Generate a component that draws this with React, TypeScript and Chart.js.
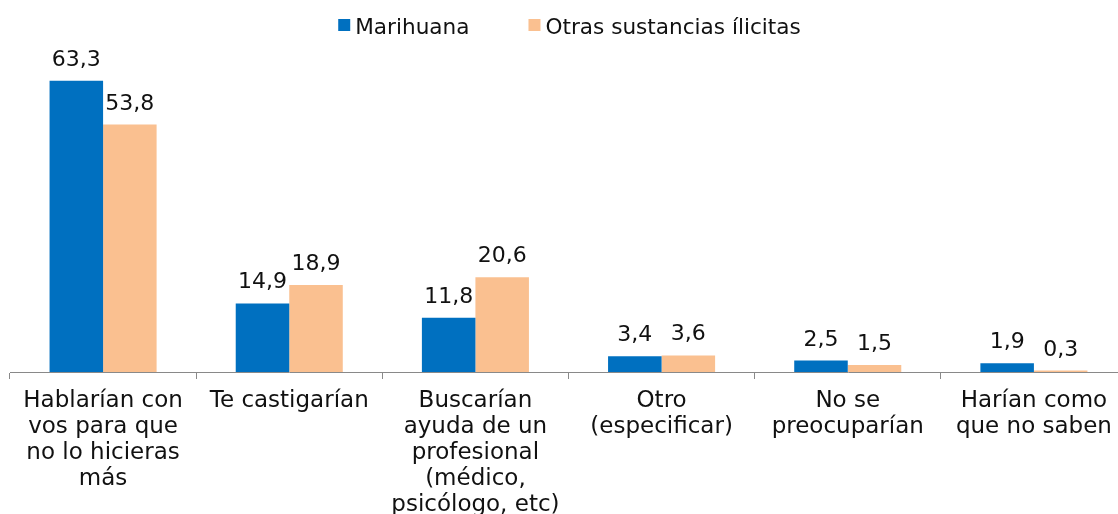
import React, { useEffect, useRef } from "react";
import { Chart, registerables } from "chart.js";

Chart.register(...registerables);

const categories: string[][] = [
  ["Hablarían con", "vos para que", "no lo hicieras", "más"],
  ["Te castigarían"],
  ["Buscarían", "ayuda de un", "profesional", "(médico,", "psicólogo, etc)"],
  ["Otro", "(especificar)"],
  ["No se", "preocuparían"],
  ["Harían como", "que no saben"],
];
const seriesNames = ["Marihuana", "Otras sustancias ílicitas"];
const marihuana = [63.3, 14.9, 11.8, 3.4, 2.5, 1.9];
const otras = [53.8, 18.9, 20.6, 3.6, 1.5, 0.3];
const seriesColors = ["#0070C0", "#FAC090"];

const FONT = '"DejaVu Sans", sans-serif';
const TEXT = "#111111";
const AXIS = "#898989";

const fmt = (v: number) => v.toFixed(1).replace(".", ",");

const valueLabels = {
  id: "valueLabels",
  afterDatasetsDraw(chart: any) {
    const ctx = chart.ctx;
    ctx.save();
    ctx.font = `22px ${FONT}`;
    ctx.fillStyle = TEXT;
    ctx.textAlign = "center";
    ctx.textBaseline = "alphabetic";
    chart.data.datasets.forEach((ds: any, i: number) => {
      const meta = chart.getDatasetMeta(i);
      meta.data.forEach((bar: any, j: number) => {
        ctx.fillText(fmt(ds.data[j]), bar.x, bar.y - 15);
      });
    });
    ctx.restore();
  },
};

const customLegend = {
  id: "customLegend",
  afterDraw(chart: any) {
    const ctx = chart.ctx;
    ctx.save();
    ctx.font = `21.6px ${FONT}`;
    ctx.textBaseline = "alphabetic";
    ctx.textAlign = "left";
    const box = 12;
    const gap = 5;
    const spacing = 59;
    const items = chart.data.datasets.map((ds: any) => ({
      label: ds.label,
      color: ds.backgroundColor,
      w: ctx.measureText(ds.label).width,
    }));
    let total = 0;
    items.forEach((it: any, i: number) => {
      total += box + gap + it.w + (i < items.length - 1 ? spacing : 0);
    });
    const ca = chart.chartArea;
    let x = (ca.left + ca.right) / 2 + 1 - total / 2;
    items.forEach((it: any) => {
      ctx.fillStyle = it.color;
      ctx.fillRect(x, 19, box, box);
      ctx.fillStyle = TEXT;
      ctx.fillText(it.label, x + box + gap, 34);
      x += box + gap + it.w + spacing;
    });
    ctx.restore();
  },
};

export default function App() {
  const ref = useRef<HTMLCanvasElement | null>(null);

  useEffect(() => {
    if (!ref.current) return;
    const chart = new Chart(ref.current, {
      type: "bar",
      data: {
        labels: categories,
        datasets: [
          {
            label: seriesNames[0],
            data: marihuana,
            backgroundColor: seriesColors[0],
            categoryPercentage: 0.575,
            barPercentage: 1,
          },
          {
            label: seriesNames[1],
            data: otras,
            backgroundColor: seriesColors[1],
            categoryPercentage: 0.575,
            barPercentage: 1,
          },
        ],
      },
      options: {
        animation: false,
        responsive: true,
        maintainAspectRatio: false,
        layout: { padding: { top: 50, left: 10, right: 3, bottom: 0 } },
        plugins: {
          legend: { display: false },
          tooltip: { enabled: false },
        },
        scales: {
          x: {
            grid: {
              display: true,
              drawOnChartArea: false,
              drawTicks: true,
              tickLength: 7,
              color: AXIS,
              offset: true,
            },
            border: { display: true, color: AXIS, width: 1 },
            ticks: {
              color: TEXT,
              padding: 9,
              maxRotation: 0,
              autoSkip: false,
              font: { family: FONT, size: 23, lineHeight: "26px" as any },
            },
            afterFit: (scale: any) => {
              scale.height = 142;
            },
          },
          y: {
            display: false,
            min: 0,
            max: 70,
          },
        },
      },
      plugins: [valueLabels, customLegend],
    });
    return () => chart.destroy();
  }, []);

  return (
    <div
      style={{
        position: "fixed",
        left: 0,
        top: 0,
        width: 1118,
        height: 514,
        overflow: "hidden",
        background: "#ffffff",
      }}
    >
      <div style={{ position: "relative", width: 1130, height: 514 }}>
        <canvas ref={ref} />
      </div>
    </div>
  );
}
